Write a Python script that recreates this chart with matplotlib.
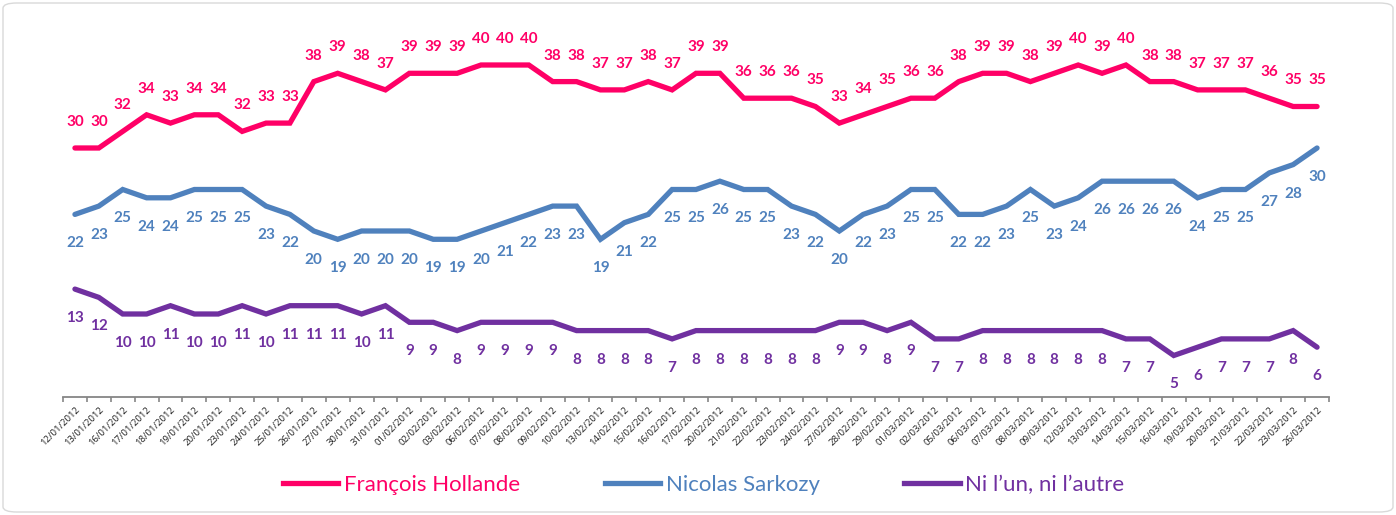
import matplotlib
matplotlib.use("Agg")
import matplotlib.pyplot as plt
from matplotlib.patches import FancyBboxPatch
from matplotlib.lines import Line2D
import numpy as np

dates = ["12/01/2012", "13/01/2012", "16/01/2012", "17/01/2012", "18/01/2012", "19/01/2012",
         "20/01/2012", "23/01/2012", "24/01/2012", "25/01/2012", "26/01/2012", "27/01/2012",
         "30/01/2012", "31/01/2012", "01/02/2012", "02/02/2012", "03/02/2012", "06/02/2012",
         "07/02/2012", "08/02/2012", "09/02/2012", "10/02/2012", "13/02/2012", "14/02/2012",
         "15/02/2012", "16/02/2012", "17/02/2012", "20/02/2012", "21/02/2012", "22/02/2012",
         "23/02/2012", "24/02/2012", "27/02/2012", "28/02/2012", "29/02/2012", "01/03/2012",
         "02/03/2012", "05/03/2012", "06/03/2012", "07/03/2012", "08/03/2012", "09/03/2012",
         "12/03/2012", "13/03/2012", "14/03/2012", "15/03/2012", "16/03/2012", "19/03/2012",
         "20/03/2012", "21/03/2012", "22/03/2012", "23/03/2012", "26/03/2012"]

hollande = [30, 30, 32, 34, 33, 34, 34, 32, 33, 33, 38, 39, 38, 37, 39, 39, 39, 40, 40, 40,
            38, 38, 37, 37, 38, 37, 39, 39, 36, 36, 36, 35, 33, 34, 35, 36, 36, 38, 39, 39,
            38, 39, 40, 39, 40, 38, 38, 37, 37, 37, 36, 35, 35]
sarkozy = [22, 23, 25, 24, 24, 25, 25, 25, 23, 22, 20, 19, 20, 20, 20, 19, 19, 20, 21, 22,
           23, 23, 19, 21, 22, 25, 25, 26, 25, 25, 23, 22, 20, 22, 23, 25, 25, 22, 22, 23,
           25, 23, 24, 26, 26, 26, 26, 24, 25, 25, 27, 28, 30]
neither = [13, 12, 10, 10, 11, 10, 10, 11, 10, 11, 11, 11, 10, 11, 9, 9, 8, 9, 9, 9,
           9, 8, 8, 8, 8, 7, 8, 8, 8, 8, 8, 8, 9, 9, 8, 9, 7, 7, 8, 8,
           8, 8, 8, 8, 7, 7, 5, 6, 7, 7, 7, 8, 6]

series_names = ["François Hollande", "Nicolas Sarkozy", "Ni l\u2019un, ni l\u2019autre"]
colors = ["#FF0066", "#4F81BD", "#7030A0"]

plt.rcParams['font.family'] = ['Lato', 'DejaVu Sans']

W, H = 1396, 515
fig = plt.figure(figsize=(W / 100, H / 100), dpi=100)
x0, x1 = 63, 1329
y0 = 397
ymax = 45
ytop = y0 - ymax * 8.3
ax = fig.add_axes([x0 / W, 1 - y0 / H, (x1 - x0) / W, (y0 - ytop) / H])

n = len(dates)
x = np.arange(n)
data = [hollande, sarkozy, neither]
offsets = [26, -29, -29]
for vals, c, off in zip(data, colors, offsets):
    ax.plot(x, vals, color=c, lw=3.8, solid_joinstyle='miter', solid_capstyle='round', zorder=3)
    for xi, v in zip(x, vals):
        ax.annotate(str(v), (xi, v), xytext=(0, off * 0.72), textcoords='offset points',
                    ha='center', va='center', color=c, fontsize=11, fontweight='bold')

ax.set_xlim(-0.5, n - 0.5)
ax.set_ylim(0, ymax)
for s in ['top', 'right', 'left']:
    ax.spines[s].set_visible(False)
ax.spines['bottom'].set_color('#868686')
ax.spines['bottom'].set_linewidth(1.3)
ax.set_yticks([])
ax.set_xticks(x)
ax.set_xticklabels(dates, rotation=45, ha='right', va='top', rotation_mode='anchor',
                   fontsize=6.8, color='#222222', family=['Open Sans', 'DejaVu Sans'])
ax.tick_params(axis='x', which='major', length=0, pad=6)
ax.set_xticks(np.arange(-0.5, n, 1.0), minor=True)
ax.tick_params(axis='x', which='minor', length=3.5, color='#868686', width=1.2)

handles = [Line2D([0], [0], color=c, lw=3.8) for c in colors]
leg = fig.legend(handles, series_names, loc='center', bbox_to_anchor=(0.504, 1 - 485 / H),
                 ncol=3, frameon=False, fontsize=16, handlelength=2.5, columnspacing=3.8,
                 handletextpad=0.25)
for t, c in zip(leg.get_texts(), colors):
    t.set_color(c)

border = FancyBboxPatch((3 / W, 3 / H), 1 - 6 / W, 1 - 6 / H,
                        boxstyle="round,pad=0,rounding_size=0.01",
                        transform=fig.transFigure, fill=False, ec='#D9D9D9', lw=1.0)
fig.patches.append(border)

fig.savefig("out.png", dpi=100)
